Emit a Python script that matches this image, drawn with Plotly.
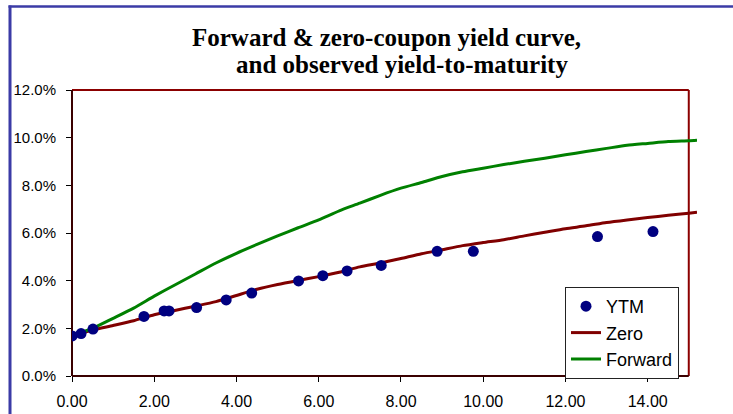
import plotly.graph_objects as go

# Observed yield-to-maturity of traded bonds (maturity in years, yield)
ytm_maturity = [0.005, 0.22, 0.51, 1.75, 2.24, 2.36, 3.03, 3.75, 4.37, 5.51,
                6.10, 6.69, 7.52, 8.88, 9.76, 12.78, 14.13]
ytm_yield = [0.0168, 0.0178, 0.0197, 0.0250, 0.0273, 0.0273, 0.0287, 0.0319, 0.0348, 0.0399,
             0.0421, 0.0441, 0.0464, 0.0523, 0.0523, 0.0585, 0.0606]

# Fitted curves sampled along maturity
curve_maturity = [0, 0.5, 1, 1.5, 2, 2.5, 3, 3.5, 4, 4.5, 5, 5.5, 6, 6.5, 7, 7.5,
                  8, 8.5, 9, 9.5, 10, 10.5, 11, 11.5, 12, 12.5, 13, 13.5, 14, 14.5, 15, 15.2]
zero_yield = [0.0168, 0.0193, 0.0212, 0.0232, 0.0257, 0.0275, 0.0293, 0.0312, 0.0338, 0.0364,
              0.0384, 0.0401, 0.0417, 0.0435, 0.0458, 0.0474, 0.0493, 0.0513, 0.0530, 0.0547,
              0.0560, 0.0572, 0.0588, 0.0603, 0.0618, 0.0630, 0.0644, 0.0655, 0.0665, 0.0674,
              0.0683, 0.0687]
forward_yield = [0.0170, 0.0200, 0.0242, 0.0285, 0.0335, 0.0382, 0.0428, 0.0474, 0.0515, 0.0552,
                 0.0588, 0.0622, 0.0655, 0.0693, 0.0725, 0.0758, 0.0788, 0.0812, 0.0837, 0.0857,
                 0.0872, 0.0887, 0.0901, 0.0914, 0.0928, 0.0942, 0.0955, 0.0968, 0.0976, 0.0984,
                 0.0987, 0.0989]

X_MAX = 15.2      # axis extent (curves run slightly past the frame)
X_FRAME = 15.0    # right edge of the plot frame
Y_MAX = 0.12

W, H = 733, 414
M_L, M_R, M_T, M_B = 72, 36, 90, 38
PW, PH = W - M_L - M_R, H - M_T - M_B


def px_to_paper_x(px):
    return (px - M_L) / PW


def px_to_paper_y(py):
    return (H - M_B - py) / PH


fig = go.Figure()

fig.add_trace(go.Scatter(
    x=curve_maturity, y=zero_yield, mode="lines", name="Zero",
    line=dict(color="#800000", width=3, shape="spline", smoothing=0.6), legendrank=2,
))
fig.add_trace(go.Scatter(
    x=curve_maturity, y=forward_yield, mode="lines", name="Forward",
    line=dict(color="#008000", width=3, shape="spline", smoothing=0.6), legendrank=3,
))
fig.add_trace(go.Scatter(
    x=ytm_maturity, y=ytm_yield, mode="markers", name="YTM",
    marker=dict(color="#000080", size=11), legendrank=1,
))

fig.update_xaxes(
    range=[0, X_MAX], dtick=2, tick0=0, tickformat=".2f",
    showgrid=False, zeroline=False, showline=False, automargin=False,
    ticks="outside", ticklen=5, tickcolor="#000000", tickwidth=1,
    tickfont=dict(family="Liberation Sans, Arial, sans-serif", size=16, color="#000000"),
    ticklabelstandoff=6,
)
fig.update_yaxes(
    range=[0, Y_MAX], dtick=0.02, tick0=0, tickformat=".1%",
    showgrid=False, zeroline=False, showline=False, automargin=False,
    ticks="outside", ticklen=5, tickcolor="#000000", tickwidth=1,
    tickfont=dict(family="Liberation Sans, Arial, sans-serif", size=15, color="#000000"),
    ticklabelstandoff=7,
)

frame_right = X_FRAME / X_MAX
shapes = [
    # plot frame: top and right in dark red
    dict(type="line", xref="paper", yref="paper", x0=0, x1=frame_right, y0=1, y1=1,
         line=dict(color="#8b0000", width=2), layer="below"),
    dict(type="line", xref="paper", yref="paper", x0=frame_right, x1=frame_right, y0=0, y1=1,
         line=dict(color="#8b0000", width=2), layer="below"),
    # axis lines: left and bottom
    dict(type="line", xref="paper", yref="paper", x0=0, x1=0, y0=0, y1=1,
         line=dict(color="#3a0000", width=2), layer="below"),
    dict(type="line", xref="paper", yref="paper", x0=0, x1=frame_right, y0=0, y1=0,
         line=dict(color="#3a0000", width=2), layer="below"),
    # outer chart-area border (left and top)
    dict(type="line", xref="paper", yref="paper",
         x0=px_to_paper_x(10), x1=px_to_paper_x(10),
         y0=px_to_paper_y(5.5), y1=px_to_paper_y(H + 2),
         line=dict(color="#3b3ba6", width=3)),
    dict(type="line", xref="paper", yref="paper",
         x0=px_to_paper_x(8.5), x1=px_to_paper_x(W + 2),
         y0=px_to_paper_y(6.5), y1=px_to_paper_y(6.5),
         line=dict(color="#3b3ba6", width=2.5)),
]

title_font = dict(family="Liberation Serif, Times New Roman, serif", size=25, color="#000000")
annotations = [
    dict(text="<b>Forward &amp; zero-coupon yield curve,</b>", xref="paper", yref="paper",
         x=px_to_paper_x(386), y=px_to_paper_y(38), xanchor="center", yanchor="middle",
         showarrow=False, font=title_font),
    dict(text="<b>and observed yield-to-maturity</b>", xref="paper", yref="paper",
         x=px_to_paper_x(402), y=px_to_paper_y(65), xanchor="center", yanchor="middle",
         showarrow=False, font=title_font),
]

fig.update_layout(
    width=W, height=H,
    margin=dict(l=M_L, r=M_R, t=M_T, b=M_B, pad=0, autoexpand=False),
    paper_bgcolor="#ffffff", plot_bgcolor="#ffffff",
    shapes=shapes, annotations=annotations,
    showlegend=True,
    legend=dict(
        x=px_to_paper_x(565), y=px_to_paper_y(287), xanchor="left", yanchor="top",
        bgcolor="#ffffff", bordercolor="#222222", borderwidth=1,
        font=dict(family="Liberation Sans, Arial, sans-serif", size=18, color="#000000"),
        itemwidth=30, tracegroupgap=0,
    ),
)

fig.write_html("out.html")
